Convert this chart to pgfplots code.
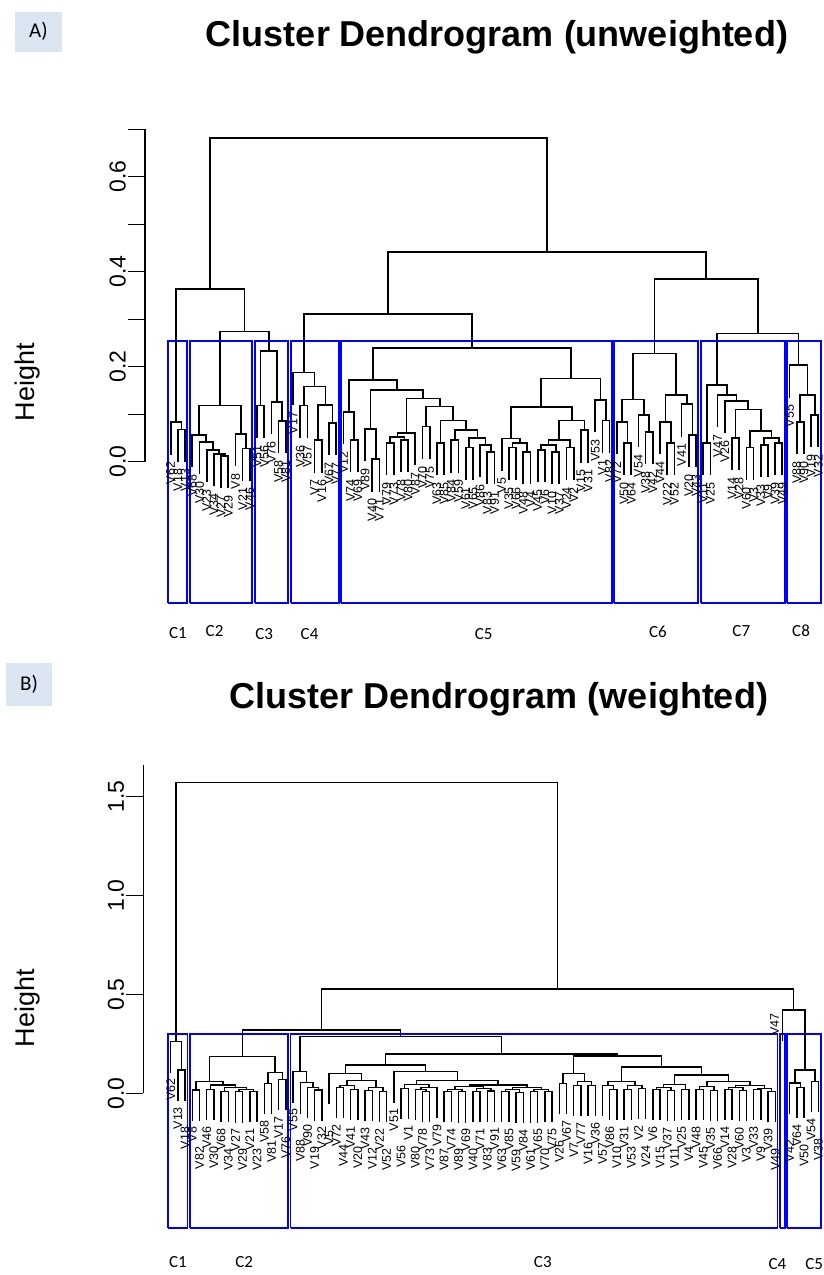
\documentclass[border=0pt]{standalone}
\usepackage{pgfplots}
\pgfplotsset{compat=1.18}
\usepackage{fontspec}
\setmainfont{Liberation Sans}
\newfontfamily\calib{Carlito}
\definecolor{tagblue}{RGB}{220,230,242}
\begin{document}
\begin{tikzpicture}
\useasboundingbox (0,0) rectangle (823pt,-1275pt);
\pgfplotsset{
  dendro/.style={scale only axis, clip=false, axis x line=none, axis y line*=left,
    y axis line style={draw=none,-}, tick align=outside, major tick length=17pt,
    ytick style={black, line width=1.1pt},
    yticklabel style={rotate=90, anchor=south, font=\fontsize{23}{23}\selectfont, inner sep=2pt},
    unbounded coords=jump},
  leaflab/.style={only marks, mark=*, mark size=0pt, mark options={draw=none,fill=none},
    nodes near coords, point meta=explicit symbolic,
    every node near coord/.append style={rotate=90, anchor=east, inner sep=0pt, font=\fontsize{12.5}{12.5}\selectfont}},
  cluslab/.style={only marks, mark=*, mark size=0pt, mark options={draw=none,fill=none},
    nodes near coords, point meta=explicit symbolic,
    every node near coord/.append style={anchor=center, inner sep=0pt, font=\calib\fontsize{17}{17}\selectfont}},
}
% ---------- titles and tags ----------
\node[fill=tagblue, minimum width=47pt, minimum height=40pt, inner sep=0pt, font=\calib\fontsize{21}{21}\selectfont] at (38.5pt,-31.5pt) {A)};
\node[anchor=base, font=\bfseries\fontsize{36}{36}\selectfont] at (497pt,-46pt) {Cluster Dendrogram (unweighted)};
\node[rotate=90, font=\fontsize{27}{27}\selectfont] at (28pt,-382pt) {Height};
\node[fill=tagblue, minimum width=46pt, minimum height=43pt, inner sep=0pt, font=\calib\fontsize{21}{21}\selectfont] at (29pt,-684.5pt) {B)};
\node[anchor=base, font=\bfseries\fontsize{36}{36}\selectfont] at (499pt,-708pt) {Cluster Dendrogram (weighted)};
\node[rotate=90, font=\fontsize{27}{27}\selectfont] at (28pt,-1008pt) {Height};

% ================= PANEL A =================
\begin{axis}[dendro, at={(145pt,-603pt)}, anchor=south west, width=680.5pt, height=483.3pt,
  xmin=-2.57, xmax=92, ymin=-0.2975, ymax=0.72,
  ytick={0,0.1,0.2,0.3,0.4,0.5,0.6,0.7}, yticklabels={0.0,,0.2,,0.4,,0.6,}]
\addplot[black, line width=1.1pt] coordinates {(-2.57,0) (-2.57,0.7)};
\addplot[black, line width=1.7pt] table[row sep=\\] {
x y \\
2 0 \\ 2 .068 \\ 3 .068 \\ 3 0 \\ nan nan \\
1 .015 \\ 1 .083 \\ 2.5 .083 \\ 2.5 .068 \\ nan nan \\
8 -.056 \\ 8 .012 \\ 9 .012 \\ 9 -.056 \\ nan nan \\
7 -.052 \\ 7 .016 \\ 8.5 .016 \\ 8.5 .012 \\ nan nan \\
6 -.043 \\ 6 .025 \\ 7.75 .025 \\ 7.75 .016 \\ nan nan \\
5 -.026 \\ 5 .042 \\ 6.875 .042 \\ 6.875 .025 \\ nan nan \\
4 -.012 \\ 4 .056 \\ 5.938 .056 \\ 5.938 .042 \\ nan nan \\
11 -.04 \\ 11 .028 \\ 12 .028 \\ 12 -.04 \\ nan nan \\
10 -.01 \\ 10 .058 \\ 11.5 .058 \\ 11.5 .028 \\ nan nan \\
4.969 .056 \\ 4.969 .118 \\ 10.75 .118 \\ 10.75 .058 \\ nan nan \\
13 .05 \\ 13 .118 \\ 14 .118 \\ 14 .05 \\ nan nan \\
16 .018 \\ 16 .086 \\ 17 .086 \\ 17 .018 \\ nan nan \\
15 .058 \\ 15 .126 \\ 16.5 .126 \\ 16.5 .086 \\ nan nan \\
13.5 .118 \\ 13.5 .233 \\ 15.75 .233 \\ 15.75 .126 \\ nan nan \\
7.859 .118 \\ 7.859 .274 \\ 14.625 .274 \\ 14.625 .233 \\ nan nan \\
1.75 .083 \\ 1.75 .363 \\ 11.242 .363 \\ 11.242 .274 \\ nan nan \\
19 .05 \\ 19 .118 \\ 20 .118 \\ 20 .05 \\ nan nan \\
21 -.023 \\ 21 .045 \\ 22 .045 \\ 22 -.023 \\ nan nan \\
23 .014 \\ 23 .082 \\ 24 .082 \\ 24 .014 \\ nan nan \\
21.5 .045 \\ 21.5 .12 \\ 23.5 .12 \\ 23.5 .082 \\ nan nan \\
19.5 .118 \\ 19.5 .158 \\ 22.5 .158 \\ 22.5 .12 \\ nan nan \\
18 .12 \\ 18 .188 \\ 21 .188 \\ 21 .158 \\ nan nan \\
26 -.022 \\ 26 .046 \\ 27 .046 \\ 27 -.022 \\ nan nan \\
25 .037 \\ 25 .105 \\ 26.5 .105 \\ 26.5 .046 \\ nan nan \\
29 -.063 \\ 29 .005 \\ 30 .005 \\ 30 -.063 \\ nan nan \\
28 .001 \\ 28 .069 \\ 29.5 .069 \\ 29.5 .005 \\ nan nan \\
31 -.029 \\ 31 .039 \\ 32 .039 \\ 32 -.029 \\ nan nan \\
33 -.022 \\ 33 .046 \\ 34 .046 \\ 34 -.022 \\ nan nan \\
31.5 .039 \\ 31.5 .052 \\ 33.5 .052 \\ 33.5 .046 \\ nan nan \\
32.5 .052 \\ 32.5 .06 \\ 35 .06 \\ 35 -.008 \\ nan nan \\
36 .006 \\ 36 .074 \\ 37 .074 \\ 37 .006 \\ nan nan \\
38 -.028 \\ 38 .04 \\ 39 .04 \\ 39 -.028 \\ nan nan \\
40 -.023 \\ 40 .045 \\ 41 .045 \\ 41 -.023 \\ nan nan \\
42 -.038 \\ 42 .03 \\ 43 .03 \\ 43 -.038 \\ nan nan \\
45 -.048 \\ 45 .02 \\ 46 .02 \\ 46 -.048 \\ nan nan \\
44 -.033 \\ 44 .035 \\ 45.5 .035 \\ 45.5 .02 \\ nan nan \\
42.5 .03 \\ 42.5 .05 \\ 44.75 .05 \\ 44.75 .035 \\ nan nan \\
40.5 .045 \\ 40.5 .066 \\ 43.625 .066 \\ 43.625 .05 \\ nan nan \\
38.5 .04 \\ 38.5 .087 \\ 42.063 .087 \\ 42.063 .066 \\ nan nan \\
36.5 .074 \\ 36.5 .116 \\ 40.281 .116 \\ 40.281 .087 \\ nan nan \\
33.75 .06 \\ 33.75 .133 \\ 38.391 .133 \\ 38.391 .116 \\ nan nan \\
28.75 .069 \\ 28.75 .151 \\ 36.07 .151 \\ 36.07 .133 \\ nan nan \\
25.75 .105 \\ 25.75 .172 \\ 32.41 .172 \\ 32.41 .151 \\ nan nan \\
48 -.038 \\ 48 .03 \\ 49 .03 \\ 49 -.038 \\ nan nan \\
50 -.048 \\ 50 .02 \\ 51 .02 \\ 51 -.048 \\ nan nan \\
48.5 .03 \\ 48.5 .039 \\ 50.5 .039 \\ 50.5 .02 \\ nan nan \\
47 -.019 \\ 47 .049 \\ 49.5 .049 \\ 49.5 .039 \\ nan nan \\
52 -.043 \\ 52 .025 \\ 53 .025 \\ 53 -.043 \\ nan nan \\
54 -.048 \\ 54 .02 \\ 55 .02 \\ 55 -.048 \\ nan nan \\
52.5 .025 \\ 52.5 .035 \\ 54.5 .035 \\ 54.5 .02 \\ nan nan \\
56 -.038 \\ 56 .03 \\ 57 .03 \\ 57 -.038 \\ nan nan \\
53.5 .035 \\ 53.5 .046 \\ 56.5 .046 \\ 56.5 .03 \\ nan nan \\
58 -.002 \\ 58 .066 \\ 59 .066 \\ 59 -.002 \\ nan nan \\
55 .046 \\ 55 .087 \\ 58.5 .087 \\ 58.5 .066 \\ nan nan \\
48.25 .049 \\ 48.25 .115 \\ 56.75 .115 \\ 56.75 .087 \\ nan nan \\
61 .019 \\ 61 .087 \\ 62 .087 \\ 62 .019 \\ nan nan \\
60 .062 \\ 60 .13 \\ 61.5 .13 \\ 61.5 .087 \\ nan nan \\
52.5 .115 \\ 52.5 .175 \\ 60.75 .175 \\ 60.75 .13 \\ nan nan \\
29.08 .172 \\ 29.08 .239 \\ 56.625 .239 \\ 56.625 .175 \\ nan nan \\
19.5 .188 \\ 19.5 .311 \\ 42.853 .311 \\ 42.853 .239 \\ nan nan \\
64 -.028 \\ 64 .04 \\ 65 .04 \\ 65 -.028 \\ nan nan \\
63 .016 \\ 63 .084 \\ 64.5 .084 \\ 64.5 .04 \\ nan nan \\
67 -.005 \\ 67 .063 \\ 68 .063 \\ 68 -.005 \\ nan nan \\
66 .03 \\ 66 .098 \\ 67.5 .098 \\ 67.5 .063 \\ nan nan \\
63.75 .084 \\ 63.75 .131 \\ 66.75 .131 \\ 66.75 .098 \\ nan nan \\
70 -.029 \\ 70 .039 \\ 71 .039 \\ 71 -.029 \\ nan nan \\
69 .016 \\ 69 .084 \\ 70.5 .084 \\ 70.5 .039 \\ nan nan \\
73 -.012 \\ 73 .056 \\ 74 .056 \\ 74 -.012 \\ nan nan \\
72 .053 \\ 72 .121 \\ 73.5 .121 \\ 73.5 .056 \\ nan nan \\
69.75 .084 \\ 69.75 .14 \\ 72.75 .14 \\ 72.75 .121 \\ nan nan \\
65.25 .131 \\ 65.25 .228 \\ 71.25 .228 \\ 71.25 .14 \\ nan nan \\
75 -.028 \\ 75 .04 \\ 76 .04 \\ 76 -.028 \\ nan nan \\
79 -.018 \\ 79 .05 \\ 80 .05 \\ 80 -.018 \\ nan nan \\
81 -.038 \\ 81 .03 \\ 82 .03 \\ 82 -.038 \\ nan nan \\
83 -.033 \\ 83 .035 \\ 84 .035 \\ 84 -.033 \\ nan nan \\
85 -.028 \\ 85 .04 \\ 86 .04 \\ 86 -.028 \\ nan nan \\
83.5 .035 \\ 83.5 .05 \\ 85.5 .05 \\ 85.5 .04 \\ nan nan \\
81.5 .03 \\ 81.5 .065 \\ 84.5 .065 \\ 84.5 .05 \\ nan nan \\
79.5 .05 \\ 79.5 .11 \\ 83 .11 \\ 83 .065 \\ nan nan \\
78 .06 \\ 78 .128 \\ 81.25 .128 \\ 81.25 .11 \\ nan nan \\
77 .072 \\ 77 .14 \\ 79.625 .14 \\ 79.625 .128 \\ nan nan \\
75.5 .04 \\ 75.5 .161 \\ 78.313 .161 \\ 78.313 .14 \\ nan nan \\
88 .016 \\ 88 .084 \\ 89 .084 \\ 89 .016 \\ nan nan \\
90 .03 \\ 90 .098 \\ 91 .098 \\ 91 .03 \\ nan nan \\
88.5 .084 \\ 88.5 .14 \\ 90.5 .14 \\ 90.5 .098 \\ nan nan \\
87 .135 \\ 87 .203 \\ 89.5 .203 \\ 89.5 .14 \\ nan nan \\
76.906 .161 \\ 76.906 .27 \\ 88.25 .27 \\ 88.25 .203 \\ nan nan \\
68.25 .228 \\ 68.25 .384 \\ 82.578 .384 \\ 82.578 .27 \\ nan nan \\
31.176 .311 \\ 31.176 .442 \\ 75.414 .442 \\ 75.414 .384 \\ nan nan \\
6.496 .363 \\ 6.496 .682 \\ 53.295 .682 \\ 53.295 .442 \\
};
\addplot[blue, line width=2pt, line join=miter] table[row sep=\\] {
x y \\
0.66 -.2975 \\ 3.33 -.2975 \\ 3.33 .2545 \\ 0.66 .2545 \\ 0.66 -.2975 \\ nan nan \\
3.66 -.2975 \\ 12.33 -.2975 \\ 12.33 .2545 \\ 3.66 .2545 \\ 3.66 -.2975 \\ nan nan \\
12.66 -.2975 \\ 17.33 -.2975 \\ 17.33 .2545 \\ 12.66 .2545 \\ 12.66 -.2975 \\ nan nan \\
17.66 -.2975 \\ 24.33 -.2975 \\ 24.33 .2545 \\ 17.66 .2545 \\ 17.66 -.2975 \\ nan nan \\
24.66 -.2975 \\ 62.33 -.2975 \\ 62.33 .2545 \\ 24.66 .2545 \\ 24.66 -.2975 \\ nan nan \\
62.66 -.2975 \\ 74.33 -.2975 \\ 74.33 .2545 \\ 62.66 .2545 \\ 62.66 -.2975 \\ nan nan \\
74.66 -.2975 \\ 86.33 -.2975 \\ 86.33 .2545 \\ 74.66 .2545 \\ 74.66 -.2975 \\ nan nan \\
86.66 -.2975 \\ 91.33 -.2975 \\ 91.33 .2545 \\ 86.66 .2545 \\ 86.66 -.2975 \\
};
\addplot[leaflab] table[row sep=\\, meta=l] {
x y l \\
1 0 V62 \\ 2 -.015 V18 \\ 3 -.015 V13 \\ 4 -.027 V68 \\ 5 -.041 V30 \\ 6 -.058 V23 \\
7 -.067 V34 \\ 8 -.071 V27 \\ 9 -.071 V29 \\ 10 -.025 V8 \\ 11 -.055 V21 \\ 12 -.055 V46 \\
13 .035 V51 \\ 14 .035 V56 \\ 15 .043 V76 \\ 16 .003 V58 \\ 17 .003 V81 \\ 18 .105 V17 \\
19 .035 V36 \\ 20 .035 V57 \\ 21 -.038 V7 \\ 22 -.038 V16 \\ 23 -.001 V67 \\ 24 -.001 V77 \\
25 .022 V12 \\ 26 -.037 V74 \\ 27 -.037 V69 \\ 28 -.014 V89 \\ 29 -.078 V40 \\ 30 -.078 V71 \\
31 -.044 V79 \\ 32 -.044 V73 \\ 33 -.037 V78 \\ 34 -.037 V80 \\ 35 -.023 V87 \\ 36 -.009 V70 \\
37 -.009 V75 \\ 38 -.043 V63 \\ 39 -.043 V85 \\ 40 -.038 V84 \\ 41 -.038 V59 \\ 42 -.053 V61 \\
43 -.053 V65 \\ 44 -.048 V86 \\ 45 -.063 V83 \\ 46 -.063 V91 \\ 47 -.034 V5 \\ 48 -.053 V35 \\
49 -.053 V66 \\ 50 -.063 V48 \\ 51 -.063 V4 \\ 52 -.058 V45 \\ 53 -.058 V6 \\ 54 -.063 V10 \\
55 -.063 V37 \\ 56 -.053 V24 \\ 57 -.053 V2 \\ 58 -.017 V15 \\ 59 -.017 V31 \\ 60 .047 V53 \\
61 .004 V1 \\ 62 .004 V82 \\ 63 .001 V72 \\ 64 -.043 V50 \\ 65 -.043 V64 \\ 66 .015 V54 \\
67 -.02 V38 \\ 68 -.02 V42 \\ 69 .001 V44 \\ 70 -.044 V22 \\ 71 -.044 V52 \\ 72 .038 V41 \\
73 -.027 V20 \\ 74 -.027 V43 \\ 75 -.043 V11 \\ 76 -.043 V25 \\ 77 .057 V47 \\ 78 .045 V26 \\
79 -.033 V14 \\ 80 -.033 V28 \\ 81 -.053 V60 \\ 82 -.053 V3 \\ 83 -.048 V33 \\ 84 -.048 V9 \\
85 -.043 V39 \\ 86 -.043 V49 \\ 87 .12 V55 \\ 88 .001 V88 \\ 89 .001 V90 \\ 90 .015 V19 \\
91 .015 V32 \\
};
\addplot[cluslab] table[row sep=\\, meta=l] {
x y l \\
2.0 -.36 C1 \\ 7.1 -.356 C2 \\ 14.0 -.363 C3 \\ 20.3 -.363 C4 \\ 44.5 -.363 C5 \\
68.7 -.358 C6 \\ 80.3 -.356 C7 \\ 88.6 -.356 C8 \\
};
\end{axis}

% ================= PANEL B =================
\begin{axis}[dendro, at={(143.3pt,-1227.7pt)}, anchor=south west, width=682.3pt, height=470.8pt,
  xmin=-2.81, xmax=92, ymin=-0.68, ymax=1.7,
  ytick={0,0.5,1,1.5}, yticklabels={0.0,0.5,1.0,1.5}]
\addplot[black, line width=1.1pt] coordinates {(-2.81,0) (-2.81,1.66)};
\addplot[black, line width=1.4pt] table[row sep=\\] {
x y \\
2 -.039 \\ 2 .118 \\ 3 .118 \\ 3 -.039 \\ nan nan \\
1 .104 \\ 1 .261 \\ 2.5 .261 \\ 2.5 .118 \\ nan nan \\
4 -.14 \\ 4 .017 \\ 5 .017 \\ 5 -.14 \\ nan nan \\
6 -.137 \\ 6 .02 \\ 7 .02 \\ 7 -.137 \\ nan nan \\
8 -.147 \\ 8 .01 \\ 9 .01 \\ 9 -.147 \\ nan nan \\
10 -.149 \\ 10 .008 \\ 11 .008 \\ 11 -.149 \\ nan nan \\
12 -.147 \\ 12 .01 \\ 13 .01 \\ 13 -.147 \\ nan nan \\
10.5 .008 \\ 10.5 .02 \\ 12.5 .02 \\ 12.5 .01 \\ nan nan \\
8.5 .01 \\ 8.5 .03 \\ 11.5 .03 \\ 11.5 .02 \\ nan nan \\
6.5 .02 \\ 6.5 .042 \\ 10 .042 \\ 10 .03 \\ nan nan \\
4.5 .017 \\ 4.5 .059 \\ 8.25 .059 \\ 8.25 .042 \\ nan nan \\
14 -.107 \\ 14 .05 \\ 15 .05 \\ 15 -.107 \\ nan nan \\
16 -.087 \\ 16 .07 \\ 17 .07 \\ 17 -.087 \\ nan nan \\
14.5 .05 \\ 14.5 .104 \\ 16.5 .104 \\ 16.5 .07 \\ nan nan \\
6.375 .059 \\ 6.375 .185 \\ 15.5 .185 \\ 15.5 .104 \\ nan nan \\
21 -.14 \\ 21 .017 \\ 22 .017 \\ 22 -.14 \\ nan nan \\
20 -.127 \\ 20 .03 \\ 21.5 .03 \\ 21.5 .017 \\ nan nan \\
19 -.103 \\ 19 .054 \\ 20.75 .054 \\ 20.75 .03 \\ nan nan \\
18 -.048 \\ 18 .109 \\ 19.875 .109 \\ 19.875 .054 \\ nan nan \\
24 -.127 \\ 24 .03 \\ 25 .03 \\ 25 -.127 \\ nan nan \\
26 -.137 \\ 26 .02 \\ 27 .02 \\ 27 -.137 \\ nan nan \\
24.5 .03 \\ 24.5 .04 \\ 26.5 .04 \\ 26.5 .02 \\ nan nan \\
28 -.142 \\ 28 .015 \\ 29 .015 \\ 29 -.142 \\ nan nan \\
30 -.147 \\ 30 .01 \\ 31 .01 \\ 31 -.147 \\ nan nan \\
28.5 .015 \\ 28.5 .03 \\ 30.5 .03 \\ 30.5 .01 \\ nan nan \\
25.5 .04 \\ 25.5 .063 \\ 29.5 .063 \\ 29.5 .03 \\ nan nan \\
23 -.056 \\ 23 .101 \\ 27.5 .101 \\ 27.5 .063 \\ nan nan \\
33 -.132 \\ 33 .025 \\ 34 .025 \\ 34 -.132 \\ nan nan \\
36 -.147 \\ 36 .01 \\ 37 .01 \\ 37 -.147 \\ nan nan \\
35 -.137 \\ 35 .02 \\ 36.5 .02 \\ 36.5 .01 \\ nan nan \\
35.75 .02 \\ 35.75 .03 \\ 38 .03 \\ 38 -.127 \\ nan nan \\
33.5 .025 \\ 33.5 .045 \\ 36.875 .045 \\ 36.875 .03 \\ nan nan \\
39 -.147 \\ 39 .01 \\ 40 .01 \\ 40 -.147 \\ nan nan \\
41 -.149 \\ 41 .008 \\ 42 .008 \\ 42 -.149 \\ nan nan \\
39.5 .01 \\ 39.5 .02 \\ 41.5 .02 \\ 41.5 .008 \\ nan nan \\
43 -.147 \\ 43 .01 \\ 44 .01 \\ 44 -.147 \\ nan nan \\
45 -.145 \\ 45 .012 \\ 46 .012 \\ 46 -.145 \\ nan nan \\
43.5 .01 \\ 43.5 .025 \\ 45.5 .025 \\ 45.5 .012 \\ nan nan \\
40.5 .02 \\ 40.5 .035 \\ 44.5 .035 \\ 44.5 .025 \\ nan nan \\
47 -.147 \\ 47 .01 \\ 48 .01 \\ 48 -.147 \\ nan nan \\
49 -.152 \\ 49 .005 \\ 50 .005 \\ 50 -.152 \\ nan nan \\
47.5 .01 \\ 47.5 .02 \\ 49.5 .02 \\ 49.5 .005 \\ nan nan \\
51 -.149 \\ 51 .008 \\ 52 .008 \\ 52 -.149 \\ nan nan \\
53 -.147 \\ 53 .01 \\ 54 .01 \\ 54 -.147 \\ nan nan \\
51.5 .008 \\ 51.5 .02 \\ 53.5 .02 \\ 53.5 .01 \\ nan nan \\
48.5 .02 \\ 48.5 .03 \\ 52.5 .03 \\ 52.5 .02 \\ nan nan \\
42.5 .035 \\ 42.5 .042 \\ 50.5 .042 \\ 50.5 .03 \\ nan nan \\
35.188 .045 \\ 35.188 .063 \\ 46.5 .063 \\ 46.5 .042 \\ nan nan \\
32 -.048 \\ 32 .109 \\ 40.844 .109 \\ 40.844 .063 \\ nan nan \\
25.25 .101 \\ 25.25 .143 \\ 36.422 .143 \\ 36.422 .109 \\ nan nan \\
55 -.107 \\ 55 .05 \\ 56 .05 \\ 56 -.107 \\ nan nan \\
57 -.117 \\ 57 .04 \\ 58 .04 \\ 58 -.117 \\ nan nan \\
59 -.117 \\ 59 .04 \\ 60 .04 \\ 60 -.117 \\ nan nan \\
57.5 .04 \\ 57.5 .059 \\ 59.5 .059 \\ 59.5 .04 \\ nan nan \\
55.5 .05 \\ 55.5 .101 \\ 58.5 .101 \\ 58.5 .059 \\ nan nan \\
62 -.137 \\ 62 .02 \\ 63 .02 \\ 63 -.137 \\ nan nan \\
61 -.117 \\ 61 .04 \\ 62.5 .04 \\ 62.5 .02 \\ nan nan \\
64 -.137 \\ 64 .02 \\ 65 .02 \\ 65 -.137 \\ nan nan \\
66 -.132 \\ 66 .025 \\ 67 .025 \\ 67 -.132 \\ nan nan \\
64.5 .02 \\ 64.5 .04 \\ 66.5 .04 \\ 66.5 .025 \\ nan nan \\
61.75 .04 \\ 61.75 .059 \\ 65.5 .059 \\ 65.5 .04 \\ nan nan \\
68 -.137 \\ 68 .02 \\ 69 .02 \\ 69 -.137 \\ nan nan \\
70 -.142 \\ 70 .015 \\ 71 .015 \\ 71 -.142 \\ nan nan \\
68.5 .02 \\ 68.5 .03 \\ 70.5 .03 \\ 70.5 .015 \\ nan nan \\
72 -.137 \\ 72 .02 \\ 73 .02 \\ 73 -.137 \\ nan nan \\
69.5 .03 \\ 69.5 .045 \\ 72.5 .045 \\ 72.5 .02 \\ nan nan \\
74 -.137 \\ 74 .02 \\ 75 .02 \\ 75 -.137 \\ nan nan \\
76 -.142 \\ 76 .015 \\ 77 .015 \\ 77 -.142 \\ nan nan \\
74.5 .02 \\ 74.5 .035 \\ 76.5 .035 \\ 76.5 .015 \\ nan nan \\
78 -.137 \\ 78 .02 \\ 79 .02 \\ 79 -.137 \\ nan nan \\
80 -.142 \\ 80 .015 \\ 81 .015 \\ 81 -.142 \\ nan nan \\
78.5 .02 \\ 78.5 .03 \\ 80.5 .03 \\ 80.5 .015 \\ nan nan \\
82 -.137 \\ 82 .02 \\ 83 .02 \\ 83 -.137 \\ nan nan \\
84 -.147 \\ 84 .01 \\ 85 .01 \\ 85 -.147 \\ nan nan \\
82.5 .02 \\ 82.5 .025 \\ 84.5 .025 \\ 84.5 .01 \\ nan nan \\
79.5 .03 \\ 79.5 .04 \\ 83.5 .04 \\ 83.5 .025 \\ nan nan \\
75.5 .035 \\ 75.5 .06 \\ 81.5 .06 \\ 81.5 .04 \\ nan nan \\
71 .045 \\ 71 .093 \\ 78.5 .093 \\ 78.5 .06 \\ nan nan \\
63.625 .059 \\ 63.625 .132 \\ 74.75 .132 \\ 74.75 .093 \\ nan nan \\
57 .101 \\ 57 .189 \\ 69.188 .189 \\ 69.188 .132 \\ nan nan \\
30.836 .143 \\ 30.836 .199 \\ 63.094 .199 \\ 63.094 .189 \\ nan nan \\
18.938 .109 \\ 18.938 .286 \\ 46.965 .286 \\ 46.965 .199 \\ nan nan \\
10.938 .185 \\ 10.938 .32 \\ 32.951 .32 \\ 32.951 .286 \\ nan nan \\
88 -.127 \\ 88 .03 \\ 89 .03 \\ 89 -.127 \\ nan nan \\
87 -.105 \\ 87 .052 \\ 88.5 .052 \\ 88.5 .03 \\ nan nan \\
90 -.097 \\ 90 .06 \\ 91 .06 \\ 91 -.097 \\ nan nan \\
87.75 .052 \\ 87.75 .118 \\ 90.5 .118 \\ 90.5 .06 \\ nan nan \\
86 .264 \\ 86 .421 \\ 89.125 .421 \\ 89.125 .118 \\ nan nan \\
21.944 .32 \\ 21.944 .527 \\ 87.563 .527 \\ 87.563 .421 \\ nan nan \\
1.75 .261 \\ 1.75 1.572 \\ 54.753 1.572 \\ 54.753 .527 \\
};
\addplot[blue, line width=1.6pt, line join=miter] table[row sep=\\] {
x y \\
0.66 -.68 \\ 3.33 -.68 \\ 3.33 .298 \\ 0.66 .298 \\ 0.66 -.68 \\ nan nan \\
3.66 -.68 \\ 17.33 -.68 \\ 17.33 .298 \\ 3.66 .298 \\ 3.66 -.68 \\ nan nan \\
17.66 -.68 \\ 85.33 -.68 \\ 85.33 .298 \\ 17.66 .298 \\ 17.66 -.68 \\ nan nan \\
85.66 -.68 \\ 86.33 -.68 \\ 86.33 .298 \\ 85.66 .298 \\ 85.66 -.68 \\ nan nan \\
86.66 -.68 \\ 91.33 -.68 \\ 91.33 .298 \\ 86.66 .298 \\ 86.66 -.68 \\
};
\addplot[leaflab] table[row sep=\\, meta=l] {
x y l \\
1 .077 V62 \\ 2 -.069 V13 \\ 3 -.169 V18 \\ 4 -.17 V8 \\ 5 -.27 V82 \\ 6 -.167 V46 \\
7 -.267 V30 \\ 8 -.177 V68 \\ 9 -.277 V34 \\ 10 -.179 V27 \\ 11 -.279 V29 \\ 12 -.177 V21 \\
13 -.277 V23 \\ 14 -.137 V58 \\ 15 -.237 V81 \\ 16 -.117 V17 \\ 17 -.217 V76 \\ 18 -.078 V55 \\
19 -.233 V88 \\ 20 -.157 V90 \\ 21 -.27 V19 \\ 22 -.17 V32 \\ 23 -.186 V5 \\ 24 -.157 V72 \\
25 -.257 V44 \\ 26 -.167 V41 \\ 27 -.267 V20 \\ 28 -.172 V43 \\ 29 -.272 V12 \\ 30 -.177 V22 \\
31 -.277 V52 \\ 32 -.078 V51 \\ 33 -.262 V56 \\ 34 -.162 V1 \\ 35 -.267 V80 \\ 36 -.177 V78 \\
37 -.277 V73 \\ 38 -.157 V79 \\ 39 -.277 V87 \\ 40 -.177 V74 \\ 41 -.279 V89 \\ 42 -.179 V69 \\
43 -.277 V40 \\ 44 -.177 V71 \\ 45 -.275 V83 \\ 46 -.175 V91 \\ 47 -.277 V63 \\ 48 -.177 V85 \\
49 -.282 V59 \\ 50 -.182 V84 \\ 51 -.279 V61 \\ 52 -.179 V65 \\ 53 -.277 V70 \\ 54 -.177 V75 \\
55 -.237 V26 \\ 56 -.137 V67 \\ 57 -.247 V7 \\ 58 -.147 V77 \\ 59 -.247 V16 \\ 60 -.147 V36 \\
61 -.247 V57 \\ 62 -.167 V86 \\ 63 -.267 V10 \\ 64 -.167 V31 \\ 65 -.267 V53 \\ 66 -.162 V2 \\
67 -.262 V24 \\ 68 -.167 V6 \\ 69 -.267 V15 \\ 70 -.172 V37 \\ 71 -.272 V11 \\ 72 -.167 V25 \\
73 -.267 V4 \\ 74 -.167 V48 \\ 75 -.267 V45 \\ 76 -.172 V35 \\ 77 -.272 V66 \\ 78 -.167 V14 \\
79 -.267 V28 \\ 80 -.172 V60 \\ 81 -.272 V3 \\ 82 -.167 V33 \\ 83 -.267 V9 \\ 84 -.177 V39 \\
85 -.277 V49 \\ 84.9 .405 V47 \\ 87 -.235 V42 \\ 88 -.157 V64 \\ 89 -.257 V50 \\ 90 -.127 V54 \\
91 -.227 V38 \\
};
\addplot[cluslab] table[row sep=\\, meta=l] {
x y l \\
2.0 -.855 C1 \\ 11.2 -.855 C2 \\ 52.7 -.855 C3 \\ 85.3 -.862 C4 \\ 90.4 -.862 C5 \\
};
\end{axis}
\end{tikzpicture}
\end{document}
